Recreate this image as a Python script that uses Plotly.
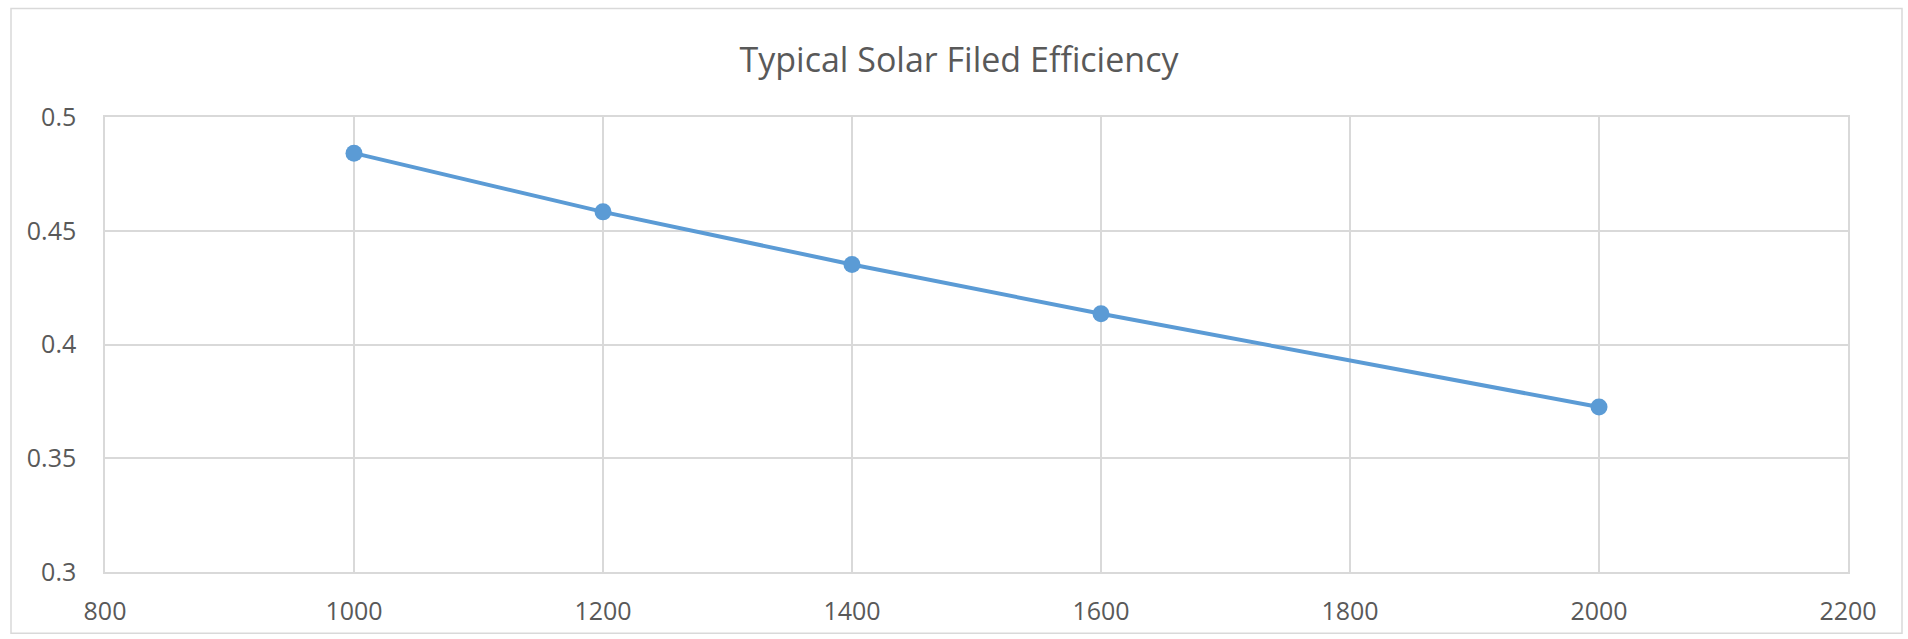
import plotly.graph_objects as go

# Solar field efficiency vs. design parameter
x_values = [1000, 1200, 1400, 1600, 2000]
efficiency = [0.4841, 0.4583, 0.4352, 0.4135, 0.3725]

x_ticks = [800, 1000, 1200, 1400, 1600, 1800, 2000, 2200]
y_ticks = [0.3, 0.35, 0.4, 0.45, 0.5]
y_tick_text = ["0.3", "0.35", "0.4", "0.45", "0.5"]

W, H = 1908, 639
L, R, T, B = 105, 60, 117, 61

line_color = "#5b9bd5"
text_color = "#595959"
grid_color = "#d9d9d9"
font_family = "Open Sans, Liberation Sans, sans-serif"

fig = go.Figure()
fig.add_trace(go.Scatter(
    x=x_values, y=efficiency, mode="lines+markers",
    line=dict(color=line_color, width=4),
    marker=dict(color=line_color, size=17),
    showlegend=False, hoverinfo="x+y",
))

pw = W - L - R
ph = H - T - B

# outer chart border
fig.add_shape(
    type="rect", xref="paper", yref="paper",
    x0=(11 - L) / pw, x1=(1902 - L) / pw,
    y0=(H - B - 640) / ph, y1=(H - B - 7) / ph,
    line=dict(color="#d9d9d9", width=1.5), fillcolor="rgba(0,0,0,0)",
    layer="below",
)

fig.update_layout(
    width=W, height=H,
    margin=dict(l=L, r=R, t=T, b=B),
    paper_bgcolor="white", plot_bgcolor="white",
    title=dict(
        text="Typical Solar Filed Efficiency",
        x=959 / W, xanchor="center",
        y=1 - 60 / H, yanchor="middle",
        font=dict(family=font_family, size=34, color=text_color),
    ),
    font=dict(family=font_family, color=text_color),
    xaxis=dict(
        range=[800, 2200], tickvals=x_ticks,
        showgrid=True, gridcolor=grid_color, gridwidth=1.5,
        showline=True, linecolor=grid_color, linewidth=1.5, mirror=True,
        zeroline=False, ticks="", ticklen=0,
        tickfont=dict(size=25, color=text_color, family=font_family),
        ticklabelstandoff=16,
    ),
    yaxis=dict(
        range=[0.3, 0.5], tickvals=y_ticks, ticktext=y_tick_text,
        showgrid=True, gridcolor=grid_color, gridwidth=1.5,
        showline=True, linecolor=grid_color, linewidth=1.5, mirror=True,
        zeroline=False, ticks="", ticklen=0,
        tickfont=dict(size=25, color=text_color, family=font_family),
        ticklabelstandoff=22,
    ),
)

fig.write_html("out.html")
